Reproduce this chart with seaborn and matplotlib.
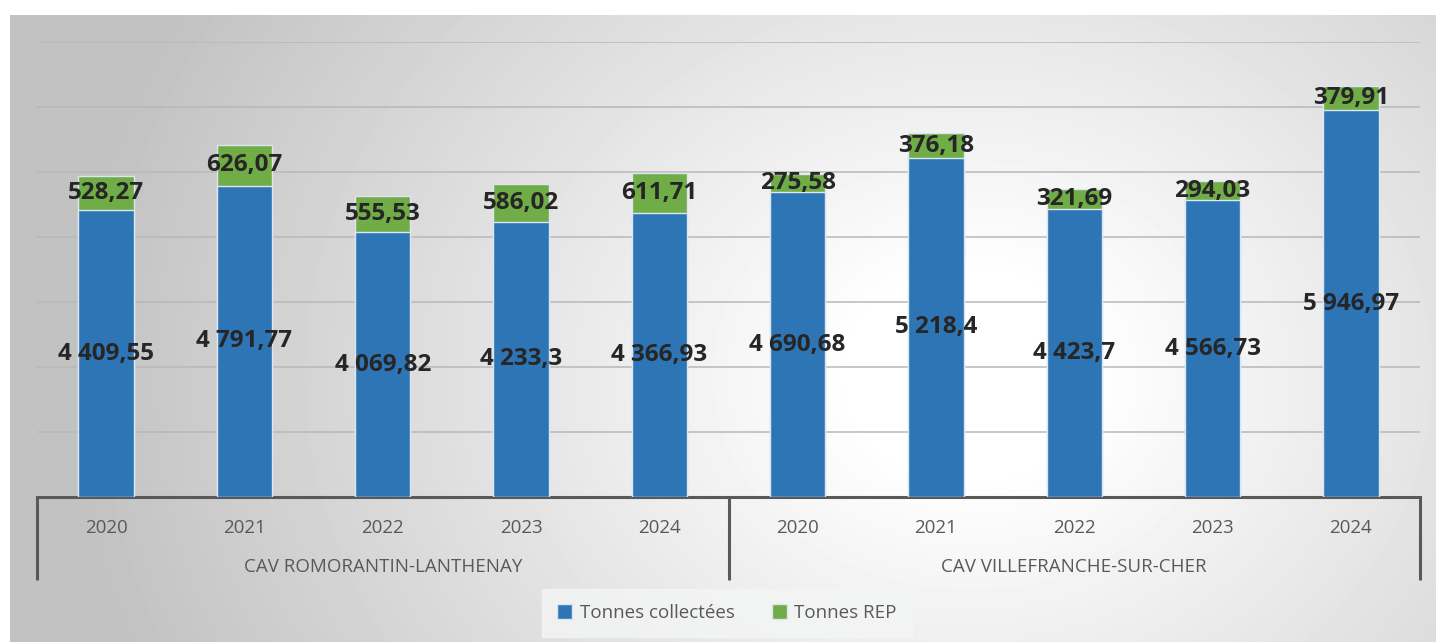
"""Tonnages collectés et REP par CAV"""

import matplotlib

matplotlib.use("Agg")
import matplotlib.pyplot as plt
import numpy as np
import pandas as pd
import seaborn as sns
from matplotlib.patches import Patch

# data
sites = ["CAV ROMORANTIN-LANTHENAY", "CAV VILLEFRANCHE-SUR-CHER"]
years = ["2020", "2021", "2022", "2023", "2024"]
tonnes_collectees = {
    "CAV ROMORANTIN-LANTHENAY": [4409.55, 4791.77, 4069.82, 4233.3, 4366.93],
    "CAV VILLEFRANCHE-SUR-CHER": [4690.68, 5218.4, 4423.7, 4566.73, 5946.97],
}
tonnes_rep = {
    "CAV ROMORANTIN-LANTHENAY": [528.27, 626.07, 555.53, 586.02, 611.71],
    "CAV VILLEFRANCHE-SUR-CHER": [275.58, 376.18, 321.69, 294.03, 379.91],
}

BLUE = "#2e75b6"
GREEN = "#70ad47"
EDGE = "#dce6f2"
AXIS_GREY = "#595959"
FONT = ["Open Sans", "DejaVu Sans"]


def fr_number(value: float) -> str:
    """French style: space for thousands, comma for decimals."""
    return f"{value:,}".replace(",", " ").replace(".", ",")


rows = []
for site in sites:
    for year, coll, rep in zip(years, tonnes_collectees[site], tonnes_rep[site]):
        rows.append(
            {"site": site, "year": year, "key": f"{site} {year}",
             "collectees": coll, "rep": rep, "total": coll + rep}
        )
df = pd.DataFrame(rows)
order = df["key"].tolist()

sns.set_theme(style="white")
plt.rcParams["font.family"] = FONT

fig = plt.figure(figsize=(14.36, 6.42), dpi=100)
fig.patch.set_facecolor("white")

# gradient background panel
bg = fig.add_axes([10 / 1436, 0, 1426 / 1436, 627 / 642], zorder=0)
h, w = 627, 1426
yy, xx = np.mgrid[0:h, 0:w]
r = np.sqrt(((xx - 960) / 900.0) ** 2 + ((yy - 360) / 750.0) ** 2)
shade = 1.0 - 0.24 * np.clip(r * 1.15 - 0.15, 0, 1)
bg.imshow(shade, cmap="gray", vmin=0, vmax=1, aspect="auto", interpolation="bilinear")
bg.set_axis_off()

ax = fig.add_axes([37 / 1436, (642 - 497) / 642, 1383 / 1436, 455 / 642], zorder=1)
ax.patch.set_alpha(0)

sns.barplot(data=df, x="key", y="total", order=order, color=GREEN, width=0.4,
            edgecolor=EDGE, linewidth=1.0, saturation=1, ax=ax, zorder=2)
sns.barplot(data=df, x="key", y="collectees", order=order, color=BLUE, width=0.4,
            edgecolor=EDGE, linewidth=1.0, saturation=1, ax=ax, zorder=3)

ax.set_ylim(0, 7000)
ax.set_xlim(-0.5, len(order) - 0.5)
ax.set_yticks(np.arange(1000, 7001, 1000))
ax.set_yticklabels([])
ax.tick_params(axis="y", length=0)
ax.grid(axis="y", color="#b8b8b8", linewidth=1.1, zorder=1)
ax.set_axisbelow(True)
for side in ["left", "right", "top"]:
    ax.spines[side].set_visible(False)
ax.spines["bottom"].set_color(AXIS_GREY)
ax.spines["bottom"].set_linewidth(2.2)

ax.set_xticks(range(len(order)), df["year"].tolist())
ax.tick_params(axis="x", length=0, pad=15.5, labelsize=13.5, labelcolor=AXIS_GREY)
ax.set_xlabel("")
ax.set_ylabel("")

# value labels
for i, row in df.iterrows():
    ax.text(i, row["collectees"] / 2, fr_number(row["collectees"]), ha="center",
            va="center", fontsize=17.5, fontweight="bold", color="#262626", zorder=5)
    ax.text(i, row["collectees"] + row["rep"] / 2, fr_number(row["rep"]), ha="center",
            va="center", fontsize=17.5, fontweight="bold", color="#262626", zorder=5)

# group separators and labels
trans = ax.get_xaxis_transform()
sep_depth = -83 / 455
for xpos in [-0.5, len(years) - 0.5, len(order) - 0.5]:
    ax.plot([xpos, xpos], [0, sep_depth], transform=trans, color=AXIS_GREY,
            linewidth=2.2, clip_on=False, solid_capstyle="butt")
for k, site in enumerate(sites):
    ax.text(k * len(years) + (len(years) - 1) / 2, -70 / 455, site, transform=trans,
            ha="center", va="center", fontsize=13.5, color=AXIS_GREY)

handles = [Patch(facecolor=BLUE, edgecolor=EDGE, label="Tonnes collectées"),
           Patch(facecolor=GREEN, edgecolor=EDGE, label="Tonnes REP")]
leg = fig.legend(handles=handles, loc="center", bbox_to_anchor=(727 / 1436, 1 - 613 / 642),
                 ncol=2, frameon=True, fontsize=13.5, handlelength=0.8, handleheight=0.8,
                 handletextpad=0.4, columnspacing=2.0, borderpad=0.6)
leg.get_frame().set_facecolor("#f4f5f5")
leg.get_frame().set_edgecolor("#f4f5f5")
leg.get_frame().set_boxstyle("square", pad=0.2)
for t in leg.get_texts():
    t.set_color(AXIS_GREY)

fig.savefig("out.png", dpi=100)
plt.close(fig)
